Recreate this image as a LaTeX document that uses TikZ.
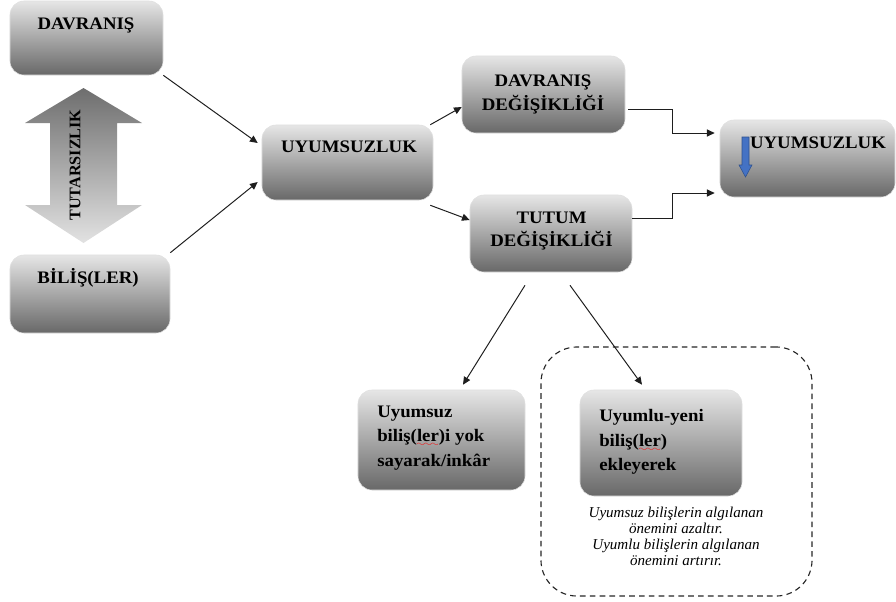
\documentclass[tikz,border=0pt]{standalone}
\usepackage{fontspec}
\setmainfont{Liberation Serif}
\newfontfamily\kalin[FakeStretch=1.07]{Liberation Serif}
\usetikzlibrary{calc,arrows.meta}
\definecolor{kutuust}{RGB}{230,230,230}
\definecolor{kutualt}{RGB}{104,104,104}
\definecolor{okust}{RGB}{110,110,110}
\definecolor{okalt}{RGB}{226,226,226}
\definecolor{oklu}{RGB}{30,30,30}
\definecolor{mavi}{RGB}{68,114,196}
\definecolor{mavikenar}{RGB}{47,82,143}
\font\dalga=lasy6
\newcommand\imla[1]{\setbox0\hbox{#1}\rlap{\textcolor{red}{\lower3.5pt\hbox to\wd0{\leaders\hbox{\dalga\char58}\hfil}}}#1}

\begin{document}
\begin{tikzpicture}[x=0.025cm,y=-0.025cm,
	kutu/.style={rectangle,rounded corners=0.35cm,top color=kutuust,bottom color=kutualt,draw=black!12,inner sep=0pt},
	yazi/.style={font=\kalin\bfseries\fontsize{12.5}{16.6}\selectfont,inner sep=0pt,align=center},
	yazisol/.style={yazi,align=left,anchor=north west,font=\kalin\bfseries\fontsize{12.5}{17.5}\selectfont},
	notyazi/.style={font=\itshape\fontsize{10.7}{11.4}\selectfont,inner sep=0pt,align=center,anchor=north},
	cerceve/.style={rectangle,draw=black!85,dashed,dash pattern=on 4pt off 3pt,line width=0.8pt,rounded corners=0.9cm},
	ok/.style={-{Triangle[length=5.5pt,width=5pt]},line width=0.7pt,draw=oklu}]
	\useasboundingbox (0,0) rectangle (896,601);

	\node[cerceve,minimum width=6.775cm,minimum height=6.225cm] (cerc) at (676.5,471.5) {};

	\node[kutu,minimum width=3.825cm,minimum height=1.85cm] (davr) at (86.5,38) {};
	\node[kutu,minimum width=4cm,minimum height=1.95cm] (bilis) at (90,294) {};
	\node[kutu,minimum width=4.275cm,minimum height=1.875cm] (uyum) at (347.5,162.5) {};
	\node[kutu,minimum width=4.075cm,minimum height=1.925cm] (dd) at (543.5,94.5) {};
	\node[kutu,minimum width=4.05cm,minimum height=1.925cm] (tutum) at (551,233.5) {};
	\node[kutu,minimum width=4.375cm,minimum height=1.925cm] (uyr) at (807.5,158.5) {};
	\node[kutu,minimum width=4.175cm,minimum height=2.5cm] (ub) at (441.5,440) {};
	\node[kutu,minimum width=4.05cm,minimum height=2.65cm] (uy) at (661,443) {};

	\node[yazi,anchor=base] (davry) at (86,29) {DAVRANIŞ};
	\node[yazi,anchor=base] (bilisy) at (88,283) {BİLİŞ(LER)};
	\node[yazi,anchor=base] (uyumy) at (349,152) {UYUMSUZLUK};
	\node[yazi,anchor=north] (ddy) at (543,75) {DAVRANIŞ\\DEĞİŞİKLİĞİ};
	\node[yazi,anchor=north] (tutumy) at (551.5,211.4) {TUTUM\\DEĞİŞİKLİĞİ};
	\node[yazi,anchor=base] (uyry) at (818,148) {UYUMSUZLUK};
	\node[yazisol] (uby) at (377,405.4) {Uyumsuz\\biliş(\imla{ler})i yok\\sayarak/inkâr};
	\node[yazisol] (uyy) at (599,409) {Uyumlu-yeni\\biliş(\imla{ler})\\ekleyerek};
	\node[notyazi] (noty) at (676,506.7) {Uyumsuz bilişlerin algılanan\\önemini azaltır.\\Uyumlu bilişlerin algılanan\\önemini artırır.};

	\shade[top color=okust,bottom color=okalt] (83.5,88) -- (142,123) -- (117,123) -- (117,205) -- (142,205) -- (83.5,243) -- (25,205) -- (50,205) -- (50,123) -- (25,123) -- cycle;
	\node[yazi,rotate=90,font=\bfseries\fontsize{11.5}{14}\selectfont] (tutars) at (75,165) {TUTARSIZLIK};

	\filldraw[fill=mavi,draw=mavikenar,line width=0.4pt] (742,137) -- (749,137) -- (749,165) -- (752,165) -- (745.5,177) -- (739,165) -- (742,165) -- cycle;

	\draw[ok] (davr.south east) -- ($(uyum.west)+(-4,-19.5)$);
	\draw[ok] ($(bilis.north east)+(0,-2)$) -- ($(uyum.west)+(-4,19.5)$);
	\draw[ok] ($(uyum.north east)+(-3,0)$) -- ($(dd.west)+(0,12.5)$);
	\draw[ok] ($(uyum.south east)+(-3,5)$) -- ($(tutum.west)+(0,-13.5)$);
	\draw[ok] ($(dd.east)+(3,14.5)$) -- ++(44,0) |- ($(uyr.west)+(-5,-25.5)$);
	\draw[ok] ($(tutum.east)+(0,-15.5)$) -- ++(40,0) |- ($(uyr.west)+(-5,34.5)$);
	\draw[ok] ($(tutum.south)+(-26,13)$) -- ($(ub.north)+(21.5,-5)$);
	\draw[ok] ($(tutum.south)+(19,13)$) -- ($(uy.north)+(-19,-5)$);
\end{tikzpicture}
\end{document}
